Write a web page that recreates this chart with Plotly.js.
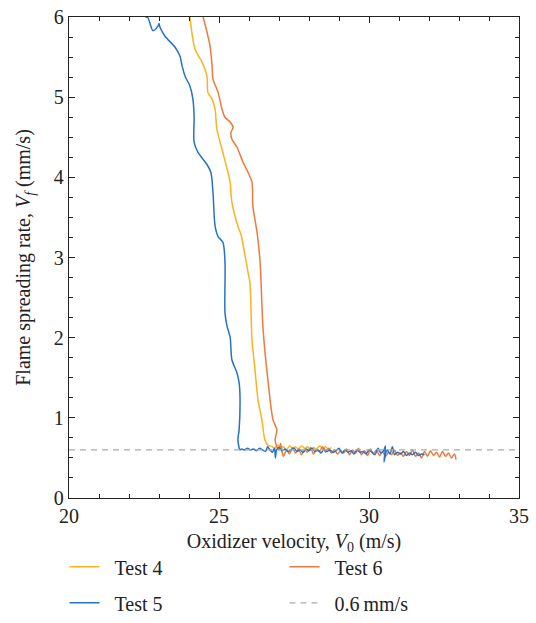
<!DOCTYPE html>
<html><head><meta charset="utf-8">
<script src="https://cdn.plot.ly/plotly-3.0.1.min.js"></script>
<style>html,body{margin:0;padding:0;background:#fff;}</style>
</head><body><div id="plot" style="width:536px;height:623px;"></div>
<script>
// Test 5 (blue)
const test5X = [22.55,22.63,22.8,22.97,23.0,23.03,23.2,23.53,23.7,23.77,23.87,24.03,24.13,24.17,24.17,24.3,24.6,24.73,24.8,24.87,24.97,25.13,25.2,25.2,25.27,25.37,25.43,25.6,25.67,25.7,25.67,25.63,25.7,
  25.75,25.85,25.95,26.05,26.15,26.25,26.35,26.45,26.55,26.62,
  26.7,26.78,26.85,26.88,26.92,27.0,27.1,27.2,27.3,27.4,
  27.5,27.6,27.7,27.8,27.9,28.0,28.1,28.2,28.3,28.4,
  28.5,28.6,28.7,28.8,28.9,29.0,29.1,29.2,29.3,29.4,
  29.5,29.6,29.7,29.8,29.9,30.0,30.1,30.2,30.3,30.4,
  30.5,30.55,30.5,30.6,30.7,30.78,30.85,30.95,31.05,31.15,
  31.25,31.35,31.45,31.55,31.65,31.75,31.85];
const test5Y = [6.0,5.99,5.83,5.89,5.92,5.875,5.76,5.625,5.51,5.39,5.26,5.14,4.975,4.76,4.44,4.31,4.16,4.06,3.81,3.39,3.26,3.19,2.94,2.31,2.14,2.01,1.725,1.56,1.44,1.26,0.85,0.725,0.6,
  0.61,0.60,0.62,0.60,0.61,0.59,0.62,0.60,0.58,0.64,
  0.60,0.57,0.62,0.50,0.60,0.63,0.59,0.61,0.58,0.60,
  0.62,0.58,0.60,0.57,0.61,0.59,0.62,0.58,0.60,0.56,
  0.61,0.58,0.60,0.57,0.59,0.62,0.56,0.60,0.57,0.59,
  0.55,0.60,0.57,0.58,0.55,0.60,0.57,0.54,0.62,0.56,
  0.60,0.65,0.45,0.60,0.55,0.64,0.54,0.57,0.55,0.58,
  0.53,0.56,0.54,0.57,0.53,0.55,0.54];
// Test 4 (yellow)
const test4X = [24.03,24.2,24.43,24.6,24.63,24.77,24.87,24.93,25.1,25.3,25.37,25.43,25.63,25.73,25.97,26.03,26.1,26.2,26.3,26.43,26.53,26.63,26.77,
  26.85,26.95,27.05,27.15,27.25,27.35,27.45,27.55,27.65,27.75,
  27.85,27.95,28.05,28.15,28.25,28.35,28.45,28.55,28.65,28.75];
const test4Y = [6.0,5.6,5.44,5.26,5.06,4.975,4.85,4.6,4.35,4.06,3.94,3.69,3.39,3.29,2.81,2.69,1.975,1.6,1.225,0.975,0.725,0.66,0.64,
  0.62,0.66,0.61,0.64,0.60,0.65,0.62,0.64,0.61,0.65,
  0.62,0.64,0.60,0.63,0.61,0.65,0.62,0.64,0.61,0.63];
// Test 6 (orange)
const test6X = [24.47,24.6,24.7,24.77,24.8,24.97,25.1,25.2,25.37,25.47,25.4,25.43,25.6,25.8,25.97,26.1,26.13,26.27,26.37,26.47,26.63,26.8,26.93,26.87,26.93,
  27.0,27.05,27.1,27.15,27.25,27.35,27.45,27.55,27.65,27.75,
  27.85,27.95,28.05,28.15,28.25,28.35,28.45,28.55,28.65,28.75,
  28.85,28.95,29.05,29.15,29.25,29.35,29.45,29.55,29.65,29.75,
  29.85,29.95,30.05,30.15,30.25,30.35,30.45,30.55,30.65,30.75,
  30.85,30.95,31.05,31.15,31.25,31.35,31.45,31.55,31.65,31.75,
  31.85,31.95,32.05,32.15,32.25,32.35,32.45,32.55,32.65,32.75,
  32.85,32.9];
const test6Y = [6.0,5.81,5.64,5.39,5.225,5.06,4.85,4.75,4.69,4.625,4.56,4.475,4.375,4.19,4.06,3.94,3.64,3.31,2.94,2.1,1.475,0.975,0.85,0.725,0.64,
  0.60,0.68,0.58,0.52,0.60,0.55,0.63,0.56,0.61,0.54,
  0.60,0.57,0.63,0.55,0.60,0.58,0.64,0.57,0.62,0.56,
  0.60,0.55,0.59,0.56,0.61,0.54,0.60,0.56,0.62,0.54,
  0.59,0.53,0.61,0.55,0.60,0.53,0.58,0.52,0.57,0.54,
  0.60,0.53,0.56,0.52,0.58,0.53,0.60,0.52,0.56,0.50,
  0.58,0.52,0.59,0.53,0.57,0.51,0.58,0.52,0.56,0.50,
  0.55,0.48];
const refX = [20, 35];
const refY = [0.6, 0.6];

const serif = "Liberation Serif, Times New Roman, serif";
const traces = [
  {x: test4X, y: test4Y, mode: 'lines', name: '\u2002Test 4', line: {color: '#F9B324', width: 1.5, shape: 'spline', smoothing: 0.8}, legend: 'legend'},
  {x: test6X, y: test6Y, mode: 'lines', name: '\u2002Test 6', line: {color: '#EE7A3B', width: 1.5, shape: 'spline', smoothing: 0.8}, legend: 'legend'},
  {x: test5X, y: test5Y, mode: 'lines', name: '\u2002Test 5', line: {color: '#2673C6', width: 1.5, shape: 'spline', smoothing: 0.8}, legend: 'legend2'},
  {x: refX, y: refY, mode: 'lines', name: '\u20020.6\u2009mm/s', line: {color: '#AAAAAA', width: 1.2, dash: '6px,5px'}, legend: 'legend2'}
];
const axisCommon = {
  showline: true, linecolor: '#222', linewidth: 1.2, mirror: 'allticks',
  ticks: 'inside', ticklen: 6, tickcolor: '#222', tickwidth: 1,
  showgrid: false, zeroline: false,
  tickfont: {family: serif, size: 20, color: '#222'}
};
const legCommon = {orientation: 'h', xanchor: 'left', yanchor: 'middle', entrywidth: 175,
  font: {family: serif, size: 20, color: '#222'}, bgcolor: 'rgba(0,0,0,0)', itemwidth: 30};
const layout = {
  width: 536, height: 623,
  margin: {l: 69, r: 17, t: 17, b: 125, autoexpand: false},
  paper_bgcolor: '#fff', plot_bgcolor: '#fff',
  xaxis: Object.assign({}, axisCommon, {range: [20, 35], dtick: 5, tick0: 20,
    minor: {dtick: 1, ticks: 'inside', ticklen: 4, tickcolor: '#222'},
    title: {text: 'Oxidizer velocity, <i>V</i><sub>0</sub> (m/s)', font: {family: serif, size: 20, color: '#222'}, standoff: 7}}),
  yaxis: Object.assign({}, axisCommon, {range: [0, 6], dtick: 1, tick0: 0,
    minor: {dtick: 0.25, ticks: 'inside', ticklen: 4, tickcolor: '#222'},
    title: {text: 'Flame spreading rate, <i>V<sub>f</sub></i> (mm/s)', font: {family: serif, size: 20, color: '#222'}, standoff: 17}}),
  legend: Object.assign({}, legCommon, {x: -0.01, y: -0.143}),
  legend2: Object.assign({}, legCommon, {x: -0.01, y: -0.218}),
  showlegend: true
};
Plotly.newPlot('plot', traces, layout, {displayModeBar: false, staticPlot: true});
</script></body></html>
